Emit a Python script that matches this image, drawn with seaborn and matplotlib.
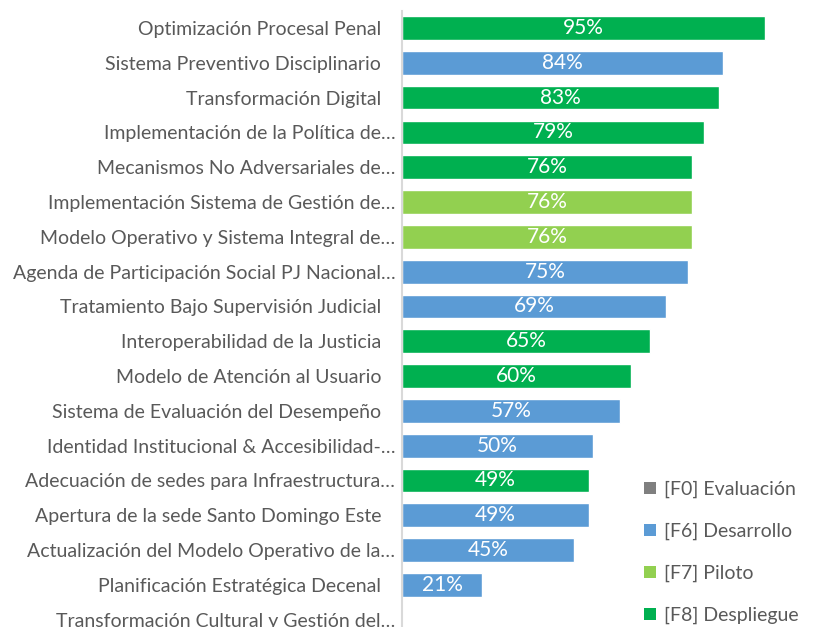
import matplotlib
matplotlib.use("Agg")
import matplotlib.pyplot as plt
from matplotlib.patches import Patch
import seaborn as sns
import pandas as pd

categories = [
    "Optimización Procesal Penal",
    "Sistema Preventivo Disciplinario",
    "Transformación Digital",
    "Implementación de la Política de…",
    "Mecanismos No Adversariales de…",
    "Implementación Sistema de Gestión de…",
    "Modelo Operativo y Sistema Integral de…",
    "Agenda de Participación Social PJ Nacional…",
    "Tratamiento Bajo Supervisión Judicial",
    "Interoperabilidad de la Justicia",
    "Modelo de Atención al Usuario",
    "Sistema de Evaluación del Desempeño",
    "Identidad Institucional & Accesibilidad-…",
    "Adecuación de sedes para Infraestructura…",
    "Apertura de la sede Santo Domingo Este",
    "Actualización del Modelo Operativo de la…",
    "Planificación Estratégica Decenal",
    "Transformación Cultural y Gestión del…",
]
values = [95, 84, 83, 79, 76, 76, 76, 75, 69, 65, 60, 57, 50, 49, 49, 45, 21, 0]
phases = ["[F8] Despliegue", "[F6] Desarrollo", "[F8] Despliegue", "[F8] Despliegue",
          "[F8] Despliegue", "[F7] Piloto", "[F7] Piloto", "[F6] Desarrollo",
          "[F6] Desarrollo", "[F8] Despliegue", "[F8] Despliegue", "[F6] Desarrollo",
          "[F6] Desarrollo", "[F8] Despliegue", "[F6] Desarrollo", "[F6] Desarrollo",
          "[F6] Desarrollo", "[F0] Evaluación"]
legend_labels = ["[F0] Evaluación", "[F6] Desarrollo", "[F7] Piloto", "[F8] Despliegue"]
legend_colors = ["#7F7F7F", "#5B9BD5", "#92D050", "#00B050"]

df = pd.DataFrame({"cat": categories, "val": values, "phase": phases})
palette = dict(zip(legend_labels, legend_colors))

sns.set_style("white")
plt.rcParams["font.family"] = ["Lato", "DejaVu Sans"]

fig = plt.figure(figsize=(8.14, 6.27), dpi=100)
ax = fig.add_axes([0.494, 0.0, 0.469, 0.983])

sns.barplot(data=df, y="cat", x="val", hue="phase", hue_order=legend_labels,
            palette=palette, dodge=False, width=0.68, legend=False, ax=ax,
            saturation=1, orient="h")

for i, v in enumerate(values):
    if v > 0:
        ax.text(v / 2, i, f"{v}%", ha="center", va="center", color="white", fontsize=15)

ax.set_xlim(0, 100)
ax.set_ylim(17.21, -0.5)
ax.set_xlabel("")
ax.set_ylabel("")
ax.set_xticks([])
ax.tick_params(axis="y", length=0, pad=15, labelsize=14, labelcolor="#595959")
for tick, lab in zip(ax.yaxis.get_major_ticks(), categories):
    if lab.endswith("…"):
        tick.set_pad(5)
for s in ["top", "right", "bottom"]:
    ax.spines[s].set_visible(False)
ax.spines["left"].set_color("#D9D9D9")
ax.spines["left"].set_linewidth(1.5)

handles = [Patch(facecolor=c, edgecolor="none") for c in legend_colors]
leg = fig.legend(handles, legend_labels, loc="lower left", bbox_to_anchor=(0.770, -0.023),
                 frameon=False, fontsize=14, labelcolor="#595959",
                 handlelength=0.6, handleheight=0.6, handletextpad=0.4, labelspacing=1.26)

fig.savefig("out.png", dpi=100)
